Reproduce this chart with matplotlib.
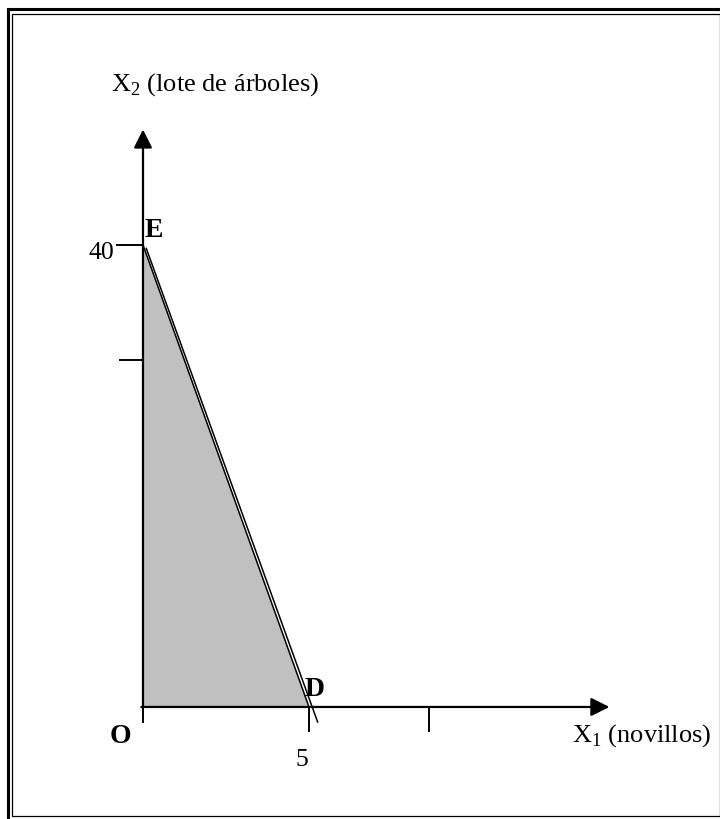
import matplotlib.pyplot as plt
from matplotlib.patches import Rectangle, Polygon

plt.rcParams['font.family'] = ['Liberation Serif', 'DejaVu Serif']
plt.rcParams['mathtext.fontset'] = 'custom'
plt.rcParams['mathtext.rm'] = 'Liberation Serif'

# feasible region O-E-D
region_x = [0, 0, 5]
region_y = [0, 40, 0]
# constraint line through E and D (drawn doubled, as in the scan)
line_x = [0, 5]
line_y = [40, 0]
line2_x = [0.1, 5.26]
line2_y = [39.7, -1.3]
# tick marks
xticks = [0, 5, 8.6]
xtick_len = [1.3, 2.1, 2.1]
yticks = [40, 30]
ytick_len = [0.78, 0.7]
# axis ends
x_end = 14.05
y_end = 50.0

fig = plt.figure(figsize=(7.2, 8.19), dpi=100)
ax = fig.add_axes([0, 0, 1, 1])
ax.set_xlim(-4.307, 17.38)
ax.set_ylim(-9.70, 61.21)
ax.axis('off')

# double frame
fig.patches.append(Rectangle((7.5 / 720, 1 - 820.5 / 819), 716 / 720, 812 / 819,
                             transform=fig.transFigure, fill=False, lw=2.2, ec='black'))
fig.patches.append(Rectangle((12 / 720, 1 - 815.5 / 819), 708 / 720, 802 / 819,
                             transform=fig.transFigure, fill=False, lw=0.9, ec='black'))

ax.add_patch(Polygon(list(zip(region_x, region_y)), closed=True, fc='#c0c0c0', ec='none'))
ax.plot(line_x, line_y, color='black', lw=1.1)
ax.plot(line2_x, line2_y, color='black', lw=1.1)

# axes with arrows
arrow = dict(arrowstyle='-|>,head_length=0.4,head_width=0.2', mutation_scale=28,
             lw=1.6, color='black', shrinkA=0, shrinkB=0)
ax.annotate('', xy=(0, y_end), xytext=(0, 0), arrowprops=arrow)
ax.annotate('', xy=(x_end, 0), xytext=(-0.05, 0), arrowprops=arrow)

for t, l in zip(xticks, xtick_len):
    ax.plot([t, t], [0, -l], color='black', lw=1.4)
for t, l in zip(yticks, ytick_len):
    ax.plot([-l, 0], [t, t], color='black', lw=1.4)

ax.text(2.17, 53.85, r'X$_2$ (lote de árboles)', fontsize=19, ha='center', va='center')
ax.text(12.92, -2.5, r'X$_1$ (novillos)', fontsize=19, ha='left', va='center')
ax.text(-0.87, 39.3, '40', fontsize=18.5, ha='right', va='center')
ax.text(4.79, -4.6, '5', fontsize=18.5, ha='center', va='center')
ax.text(0.06, 40.7, 'E', fontsize=20, fontweight='bold', ha='left', va='baseline')
ax.text(4.88, 0.95, 'D', fontsize=20, fontweight='bold', ha='left', va='baseline')
ax.text(-0.69, -2.6, 'O', fontsize=20, fontweight='bold', ha='center', va='center')

fig.savefig('out.png', dpi=100)
